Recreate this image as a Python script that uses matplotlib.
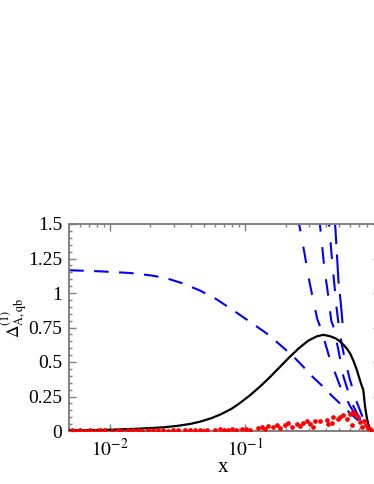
import numpy as np
import matplotlib
matplotlib.use("Agg")
import matplotlib.pyplot as plt
from matplotlib.ticker import LogLocator, MultipleLocator, NullFormatter

# --------------------------------------------------
# Data
# --------------------------------------------------
# full result (black solid)
full_x = [0.00501, 0.00708, 0.01, 0.01413, 0.01995, 0.02512, 0.03162, 0.03981, 0.04677,
          0.05623, 0.06607, 0.07943, 0.0912, 0.1096, 0.1288, 0.1514, 0.182, 0.2138,
          0.2512, 0.2951, 0.3388, 0.3802, 0.4266, 0.4677, 0.5012, 0.537, 0.5754,
          0.6026, 0.6383, 0.6714, 0.6998, 0.7311, 0.7516, 0.7745, 0.798, 0.8185,
          0.8414, 0.867, 0.875]
full_y = [0.004, 0.006, 0.009, 0.014, 0.021, 0.027, 0.037, 0.052, 0.068,
          0.092, 0.12, 0.16, 0.2, 0.26, 0.32, 0.385, 0.465, 0.535,
          0.6, 0.655, 0.685, 0.697, 0.687, 0.672, 0.652, 0.625, 0.59,
          0.56, 0.505, 0.447, 0.39, 0.33, 0.30, 0.18, 0.1, 0.05,
          0.02, 0.005, 0.0]

# leading small-x term (blue dashed, flat at small x)
lead_x = [0.00501, 0.00851, 0.01413, 0.01995, 0.0257, 0.03467, 0.04677, 0.06166,
          0.08128, 0.1096, 0.1445, 0.182, 0.2291, 0.2692, 0.3162, 0.3802, 0.4467,
          0.5248, 0.6026, 0.6918, 0.7943, 0.871]
lead_y = [1.165, 1.157, 1.145, 1.128, 1.11, 1.07, 1.017, 0.955,
          0.877, 0.79, 0.708, 0.625, 0.539, 0.468, 0.394, 0.32, 0.249,
          0.185, 0.128, 0.075, 0.03, 0.0]

# higher orders of the expansion (blue dashed, steep)
ordA_x = [0.243, 0.256, 0.278, 0.294, 0.317, 0.343, 0.370, 0.426, 0.506, 0.600,
          0.711, 0.843, 0.872]
ordA_y = [1.565, 1.466, 1.273, 1.128, 0.971, 0.814, 0.725, 0.52, 0.326, 0.181,
          0.06, 0.012, 0.0]

ordB_x = [0.3533, 0.3687, 0.3867, 0.412, 0.4358, 0.4509, 0.4912, 0.5348, 0.6172,
          0.7317, 0.8724]
ordB_y = [1.565, 1.393, 1.188, 0.995, 0.799, 0.761, 0.592, 0.399, 0.205,
          0.06, 0.0]

ordC_x = [0.4153, 0.419, 0.4372, 0.4563, 0.4762, 0.4969, 0.5142, 0.5503, 0.600,
          0.6642, 0.7483, 0.8724]
ordC_y = [1.601, 1.514, 1.29, 1.094, 0.899, 0.754, 0.659, 0.514, 0.37,
          0.225, 0.094, 0.0]

ordD_x = [0.4578, 0.4681, 0.4803, 0.4929, 0.5142, 0.5366]
ordD_y = [1.565, 1.464, 1.275, 1.087, 0.913, 0.71]

# Monte Carlo points (red)
mc_x = [0.00523, 0.0056, 0.006, 0.00653, 0.00711, 0.00774, 0.00843, 0.00918, 0.01035,
        0.01146, 0.01227, 0.0136, 0.0148, 0.01612, 0.01726, 0.01912, 0.02083, 0.02268,
        0.0247, 0.0269, 0.0293, 0.0319, 0.0359, 0.0391, 0.0426, 0.0464, 0.0489, 0.0523,
        0.06, 0.0653, 0.0699, 0.0748, 0.0801, 0.0858, 0.095, 0.1017, 0.1089, 0.1249,
        0.1337, 0.1407, 0.1481, 0.1612, 0.1726, 0.1816, 0.1979, 0.2083, 0.2229, 0.2428,
        0.2555, 0.269, 0.288, 0.3031, 0.319, 0.33, 0.3594, 0.405, 0.4118, 0.4409,
        0.4485, 0.4886, 0.5057, 0.5322, 0.5695, 0.6, 0.6203, 0.631, 0.6529, 0.6871,
        0.7111, 0.7356, 0.7612, 0.7875, 0.8149, 0.8431, 0.8724]
mc_y = [0.004, 0.002, 0.005, 0.003, 0.006, 0.002, 0.004, 0.007, 0.003,
        0.005, 0.002, 0.006, 0.004, 0.008, 0.003, 0.005, 0.009, 0.004,
        0.006, 0.002, 0.007, 0.005, 0.01, 0.004, 0.008, 0.006, 0.003, 0.01,
        0.008, 0.012, 0.006, 0.01, 0.014, 0.008, 0.013, 0.018, 0.01, 0.02,
        0.027, 0.015, 0.036, 0.028, 0.043, 0.02, 0.043, 0.055, 0.032, 0.05,
        0.036, 0.055, 0.07, 0.05, 0.03, 0.072, 0.075, 0.08, 0.048, 0.06,
        0.105, 0.085, 0.1, 0.115, 0.09, 0.12, 0.04, 0.138, 0.12, 0.105,
        0.065, 0.03, 0.07, 0.045, 0.025, 0.012, 0.003]

ytick_vals = [0, 0.25, 0.5, 0.75, 1, 1.25, 1.5]
ytick_labels = ["0", "0.25", "0.5", "0.75", "1", "1.25", "1.5"]
xtick_vals = [0.01, 0.1]
xtick_labels = [r"$10^{-2}$", r"$10^{-1}$"]

# --------------------------------------------------
# Plot
# --------------------------------------------------
plt.rcParams["font.family"] = ["Liberation Serif", "DejaVu Serif"]
plt.rcParams["mathtext.fontset"] = "stix"

W, H = 374, 484
fig = plt.figure(figsize=(W / 100, H / 100), dpi=100)
ax = fig.add_axes([69 / W, 1 - 431 / H, 311 / W, 207 / H])

blue = "#0000ff"
ax.plot(lead_x, lead_y, color=blue, lw=1.5, dashes=(7, 5), zorder=2)
for xs, ys in [(ordA_x, ordA_y), (ordB_x, ordB_y), (ordC_x, ordC_y)]:
    ax.plot(xs, ys, color=blue, lw=1.5, dashes=(8, 7.5), zorder=2)
ax.plot(ordD_x, ordD_y, color=blue, lw=1.5, dashes=(14, 5), zorder=2)

ax.plot(full_x, full_y, color="black", lw=1.6, zorder=3)
ax.plot(mc_x, mc_y, "o", color="#ff0000", ms=3.4, mec="none", zorder=4)

ax.set_xscale("log")
ax.set_xlim(0.005, 1.0)
ax.set_ylim(0, 1.5)

ax.set_xticks(xtick_vals)
ax.set_xticklabels(xtick_labels)
ax.xaxis.set_minor_locator(LogLocator(base=10, subs=np.arange(2, 10)))
ax.xaxis.set_minor_formatter(NullFormatter())
ax.set_yticks(ytick_vals)
ax.set_yticklabels(ytick_labels)
ax.yaxis.set_minor_locator(MultipleLocator(0.05))

grey = "#808080"
for sp in ax.spines.values():
    sp.set_color(grey)
    sp.set_linewidth(1.4)
ax.tick_params(which="both", direction="in", top=True, right=True, color=grey,
               labelsize=14, labelcolor="black", width=1.0)
ax.tick_params(which="major", length=5, pad=5)
ax.tick_params(which="minor", length=2.5)

fig.text(15 / W, 1 - 318 / H, r"$\Delta^{(1)}_{\mathrm{A,qb}}$", rotation=90,
         ha="center", va="center", fontsize=12.5)
fig.text(223 / W, 1 - 468 / H, "x", ha="center", va="center", fontsize=15)

fig.savefig("out.png", dpi=100)
plt.close(fig)
